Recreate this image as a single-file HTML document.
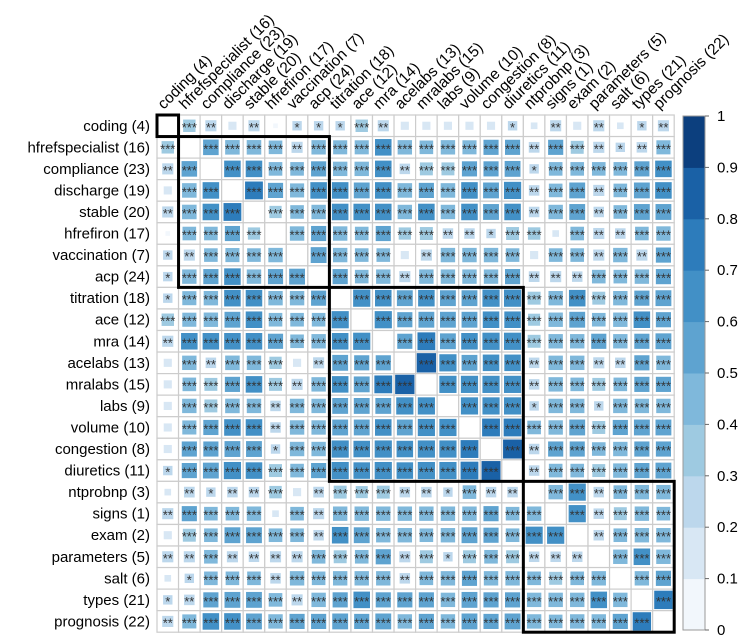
<!DOCTYPE html>
<html><head><meta charset="utf-8">
<style>
html,body{margin:0;padding:0;background:#fff;}
svg{display:block;font-family:"Liberation Sans",Arial,sans-serif;}
</style></head>
<body>
<svg id="chart" width="750" height="641" viewBox="0 0 750 641"></svg>
<script>
const labels = ["coding (4)","hfrefspecialist (16)","compliance (23)","discharge (19)","stable (20)","hfrefiron (17)","vaccination (7)","acp (24)","titration (18)","ace (12)","mra (14)","acelabs (13)","mralabs (15)","labs (9)","volume (10)","congestion (8)","diuretics (11)","ntprobnp (3)","signs (1)","exam (2)","parameters (5)","salt (6)","types (21)","prognosis (22)"];
// upper triangle values, row i has entries for columns i+1..23
const upper = [
 [.35,.28,.15,.28,.05,.2,.2,.2,.35,.28,.15,.15,.15,.15,.15,.2,.1,.28,.15,.28,.1,.2,.28],
 [.55,.48,.48,.42,.28,.47,.45,.45,.62,.47,.42,.47,.45,.52,.52,.26,.52,.38,.28,.2,.25,.45],
 [.62,.62,.42,.42,.52,.47,.47,.62,.25,.38,.38,.52,.52,.57,.2,.42,.42,.42,.42,.52,.62],
 [.72,.52,.45,.62,.62,.57,.62,.48,.52,.48,.62,.57,.67,.25,.42,.57,.28,.42,.57,.62],
 [.34,.42,.47,.62,.62,.62,.47,.62,.47,.62,.57,.62,.25,.47,.57,.25,.42,.57,.57],
 [.47,.52,.47,.42,.52,.34,.38,.25,.25,.2,.38,.35,.1,.42,.28,.25,.42,.47],
 [.57,.47,.42,.42,.15,.28,.47,.47,.47,.42,.15,.42,.42,.28,.47,.28,.52],
 [.52,.42,.47,.28,.47,.47,.47,.47,.52,.26,.28,.25,.42,.42,.47,.52],
 [.67,.62,.57,.62,.57,.57,.67,.67,.38,.47,.62,.38,.47,.52,.57],
 [.67,.52,.57,.57,.57,.62,.62,.33,.47,.57,.42,.47,.62,.52],
 [.52,.72,.57,.62,.67,.67,.38,.47,.47,.52,.47,.52,.57],
 [.85,.67,.57,.62,.62,.25,.47,.47,.28,.25,.52,.47],
 [.67,.67,.67,.67,.25,.47,.42,.38,.42,.52,.52],
 [.67,.67,.67,.2,.47,.47,.2,.47,.47,.47],
 [.72,.72,.42,.47,.57,.38,.52,.57,.57],
 [.82,.25,.52,.52,.42,.47,.52,.52],
 [.25,.42,.42,.38,.47,.52,.57],
 [.47,.67,.25,.42,.47,.47],
 [.67,.25,.38,.47,.42],
 [.25,.42,.47,.47],
 [.47,.62,.47],
 [.47,.52],
 [.77]
];
const clusters = [[0,0],[1,7],[8,16],[17,23]];
const colorTicks = [0,0.1,0.2,0.3,0.4,0.5,0.6,0.7,0.8,0.9,1];
const palette = ['#f2f7fc','#d8e7f4','#bcd7ec','#9ecae1','#7fb8db','#5ea3d0','#4290c6','#2d7cbb','#1a61a6','#0c3f7e'];

const NS = "http://www.w3.org/2000/svg";
const svg = document.getElementById('chart');
function mk(tag, attrs, parent){const e=document.createElementNS(NS,tag);for(const k in attrs)e.setAttribute(k,attrs[k]);(parent||svg).appendChild(e);return e;}
const n = labels.length, x0 = 157, y0 = 115, cs = 21.55;
const xPos = i => x0 + i*cs, yPos = i => y0 + i*cs;
function val(i,j){ if(i===j) return 1; const a=Math.min(i,j), b=Math.max(i,j); return upper[a][b-a-1]; }
function col(v){ return palette[Math.min(9, Math.floor(Math.abs(v)*10))]; }
function stars(v){ v=Math.abs(v); return v<0.17?'':v<0.23?'*':v<0.32?'**':'***'; }

const grid = mk('g',{});


for(let i=0;i<n;i++)for(let j=0;j<n;j++){
  const g = mk('g',{},grid);
  
  
  mk('rect',{x:xPos(j),y:yPos(i),width:cs,height:cs,fill:'#fff',stroke:'#cccccc','stroke-width':1.2},g);
  if(i===j) continue;
  const v = val(i,j), s = Math.min(20, Math.sqrt(Math.abs(v))*21);
  mk('rect',{x:xPos(j)+cs/2-s/2,y:yPos(i)+cs/2-s/2,width:s,height:s,fill:col(v)},g);
  const st = stars(v);
  if(st){ const t=mk('text',{x:xPos(j)+cs/2,y:yPos(i)+cs/2+6,'text-anchor':'middle','font-size':13,fill:'#333'},g); t.textContent=st; }
}
clusters.forEach(c=>{
  const r = mk('rect',{x:xPos(c[0]),y:yPos(c[0]),width:(c[1]-c[0]+1)*cs,height:(c[1]-c[0]+1)*cs,fill:'none',stroke:'#000','stroke-width':3});
  
  
});
labels.forEach((l,i)=>{
  const t = mk('text',{x:150,y:yPos(i)+cs/2+5,'text-anchor':'end','font-size':15,fill:'#000'});
  t.textContent = l;
  
  
  const cx = xPos(i)+cs/2-4, cy = 110;
  const u = mk('text',{x:cx,y:cy,'font-size':15.5,fill:'#000',transform:`rotate(-45 ${cx} ${cy})`});
  u.textContent = l;
  
  
});
const cbX=683, cbW=22, cbTop=116, cbBot=630;
const cb = mk('g',{});


const cy = v => cbBot - v*(cbBot-cbTop);
palette.forEach((c,k)=>{ mk('rect',{x:cbX,y:cy((k+1)/10),width:cbW,height:cy(k/10)-cy((k+1)/10)+0.5,fill:c},cb); });
mk('rect',{x:cbX,y:cbTop,width:cbW,height:cbBot-cbTop,fill:'none',stroke:'#999','stroke-width':1},cb);
colorTicks.forEach(v=>{
  mk('line',{x1:cbX+cbW,x2:cbX+cbW+4,y1:cy(v),y2:cy(v),stroke:'#666'},cb);
  const t = mk('text',{x:cbX+cbW+12,y:cy(v)+5,'font-size':15,fill:'#000'},cb);
  t.textContent = String(v);
  
  
});
</script>
</body></html>
